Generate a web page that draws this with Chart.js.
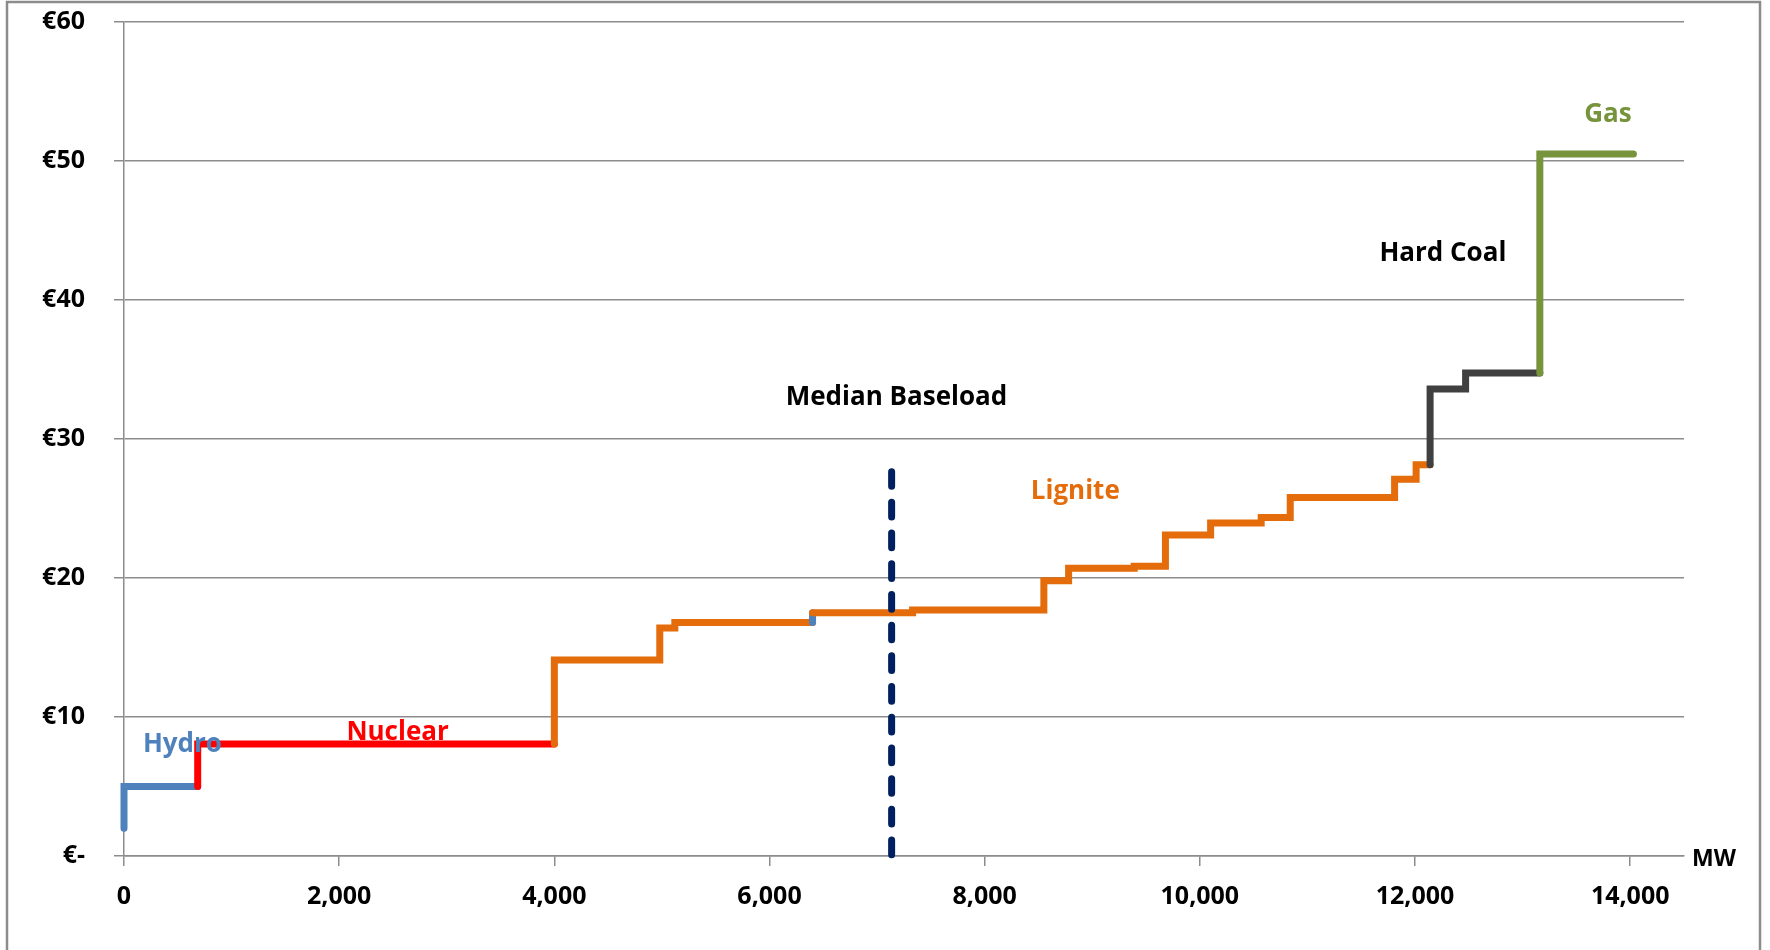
<!DOCTYPE html>
<html>
<head>
<meta charset="utf-8">
<script src="https://cdn.jsdelivr.net/npm/chart.js@4/dist/chart.umd.min.js"></script>
<style>
  html, body { margin: 0; padding: 0; background: #ffffff; }
  #wrap { position: relative; width: 1770px; height: 950px; }
</style>
</head>
<body>
<div id="wrap"><canvas id="meritOrder" width="1770" height="950"></canvas></div>
<script>
// Merit order curve: each step starts at a cumulative capacity (MW)
// and carries the marginal price (€/MWh) of that block of plants.
const startPrice = 2;
const stepStartMW = [0, 685, 4000, 4980, 5120, 6400, 6400, 7330, 8550, 8780, 9390, 9680, 10100, 10570, 10840, 11810, 12010, 12140, 12470, 13160];
const stepPrice   = [5, 8.05, 14.1, 16.4, 16.8, 17.5, 17.5, 17.7, 19.8, 20.7, 20.85, 23.1, 23.95, 24.35, 25.8, 27.1, 28.15, 33.6, 34.75, 50.5];
const stepFuel    = ['Hydro', 'Nuclear', 'Lignite', 'Lignite', 'Lignite', 'Hydro',
                     'Lignite', 'Lignite', 'Lignite', 'Lignite', 'Lignite', 'Lignite',
                     'Lignite', 'Lignite', 'Lignite', 'Lignite', 'Lignite',
                     'Hard Coal', 'Hard Coal', 'Gas'];
const lastStepEndMW = 14030;

// Median baseload demand marker
const medianBaseloadMW = 7135;
const medianLineTopPrice = 27.65;

// Axis ticks
const priceTicks = [0, 10, 20, 30, 40, 50, 60];
const capacityTicks = [0, 2000, 4000, 6000, 8000, 10000, 12000, 14000];

// Text labels placed in data space
const labelTexts  = ['Hydro', 'Nuclear', 'Median Baseload', 'Lignite', 'Hard Coal', 'Gas'];
const labelMW     = [543, 2543, 7180, 8842, 12259, 13793];
const labelPrice  = [7.48, 8.32, 32.42, 25.66, 42.78, 52.8];

// Styling
const fuelColors = {
  'Hydro': '#4F81BD',
  'Nuclear': '#FF0000',
  'Lignite': '#E46C0A',
  'Hard Coal': '#404040',
  'Gas': '#77933C'
};
const labelColors = ['#4F81BD', '#FF0000', '#000000', '#E46C0A', '#000000', '#77933C'];
const FONT = '"Open Sans", Lato, sans-serif';
const GRID = '#8c8c8c';

// Build one polyline per contiguous run of the same fuel
function buildRuns() {
  const runs = [];
  let prevPrice = startPrice;
  for (let i = 0; i < stepStartMW.length; i++) {
    const end = i + 1 < stepStartMW.length ? stepStartMW[i + 1] : lastStepEndMW;
    const fuel = stepFuel[i];
    let run = runs.length ? runs[runs.length - 1] : null;
    if (!run || run.fuel !== fuel) {
      run = { fuel, points: [{ x: stepStartMW[i], y: prevPrice }] };
      runs.push(run);
    }
    run.points.push({ x: stepStartMW[i], y: stepPrice[i] });
    run.points.push({ x: end, y: stepPrice[i] });
    prevPrice = stepPrice[i];
  }
  return runs;
}

const runs = buildRuns();
const datasets = runs.map((r, i) => ({
  label: r.fuel,
  data: r.points,
  borderColor: fuelColors[r.fuel],
  backgroundColor: fuelColors[r.fuel],
  borderWidth: 7,
  borderCapStyle: 'round',
  borderJoinStyle: 'miter',
  pointRadius: 0,
  fill: false,
  tension: 0,
  clip: false,
  order: -i
}));

// Dashes run from the top of the marker down to the axis
datasets.push({
  label: 'Median Baseload',
  data: [{ x: medianBaseloadMW, y: medianLineTopPrice }, { x: medianBaseloadMW, y: 0 }],
  borderColor: '#002060',
  borderWidth: 7,
  borderDash: [14.7, 16],
  borderCapStyle: 'round',
  pointRadius: 0,
  fill: false,
  clip: false,
  order: -100
});

// Frame, in-plot labels and the unit caption of the capacity axis
const decorations = {
  id: 'decorations',
  beforeDraw(chart) {
    const ctx = chart.ctx;
    ctx.save();
    ctx.fillStyle = '#ffffff';
    ctx.fillRect(0, 0, chart.width, chart.height);
    ctx.strokeStyle = '#8c8c8c';
    ctx.lineWidth = 2.5;
    ctx.strokeRect(7, 2, 1753, 1000);
    ctx.restore();
  },
  afterDatasetsDraw(chart) {
    const ctx = chart.ctx;
    const xs = chart.scales.x, ys = chart.scales.y;
    ctx.save();
    ctx.font = 'bold 26px ' + FONT;
    ctx.textAlign = 'center';
    ctx.textBaseline = 'alphabetic';
    labelTexts.forEach((t, i) => {
      ctx.fillStyle = labelColors[i];
      ctx.fillText(t, xs.getPixelForValue(labelMW[i]), ys.getPixelForValue(labelPrice[i]));
    });
    ctx.fillStyle = '#000000';
    ctx.textAlign = 'left';
    ctx.textBaseline = 'middle';
    ctx.font = 'bold 23px ' + FONT;
    ctx.fillText('MW', chart.chartArea.right + 8, chart.chartArea.bottom + 3);
    ctx.restore();
  }
};

new Chart(document.getElementById('meritOrder'), {
  type: 'line',
  data: { datasets },
  options: {
    responsive: false,
    animation: false,
    events: [],
    layout: { autoPadding: false, padding: { top: 22, right: 86, left: 0, bottom: 0 } },
    plugins: { legend: { display: false }, tooltip: { enabled: false } },
    scales: {
      x: {
        type: 'linear',
        min: 0,
        max: 14500,
        bounds: 'data',
        afterBuildTicks: s => { s.ticks = capacityTicks.map(v => ({ value: v })); },
        afterFit: s => { s.height = 94; s.paddingLeft = 0; s.paddingRight = 0; },
        ticks: {
          callback: v => v.toLocaleString('en-US'),
          font: { family: FONT, size: 25, weight: 'bold' },
          color: '#000000',
          padding: 16,
          maxRotation: 0,
          autoSkip: false
        },
        grid: { drawOnChartArea: false, drawTicks: true, tickLength: 10, color: GRID, lineWidth: 1.5 },
        border: { color: GRID, width: 1.5 }
      },
      y: {
        type: 'linear',
        min: 0,
        max: 60,
        afterBuildTicks: s => { s.ticks = priceTicks.map(v => ({ value: v })); },
        afterFit: s => { s.width = 124; s.paddingTop = 0; s.paddingBottom = 0; },
        ticks: {
          callback: v => (v === 0 ? '€-' : '€' + v),
          font: { family: FONT, size: 25, weight: 'bold' },
          color: '#000000',
          padding: 29,
          autoSkip: false
        },
        grid: { color: GRID, lineWidth: 1.5, tickLength: 10, drawTicks: true },
        border: { color: GRID, width: 1.5 }
      }
    }
  },
  plugins: [decorations]
});
</script>
</body>
</html>
